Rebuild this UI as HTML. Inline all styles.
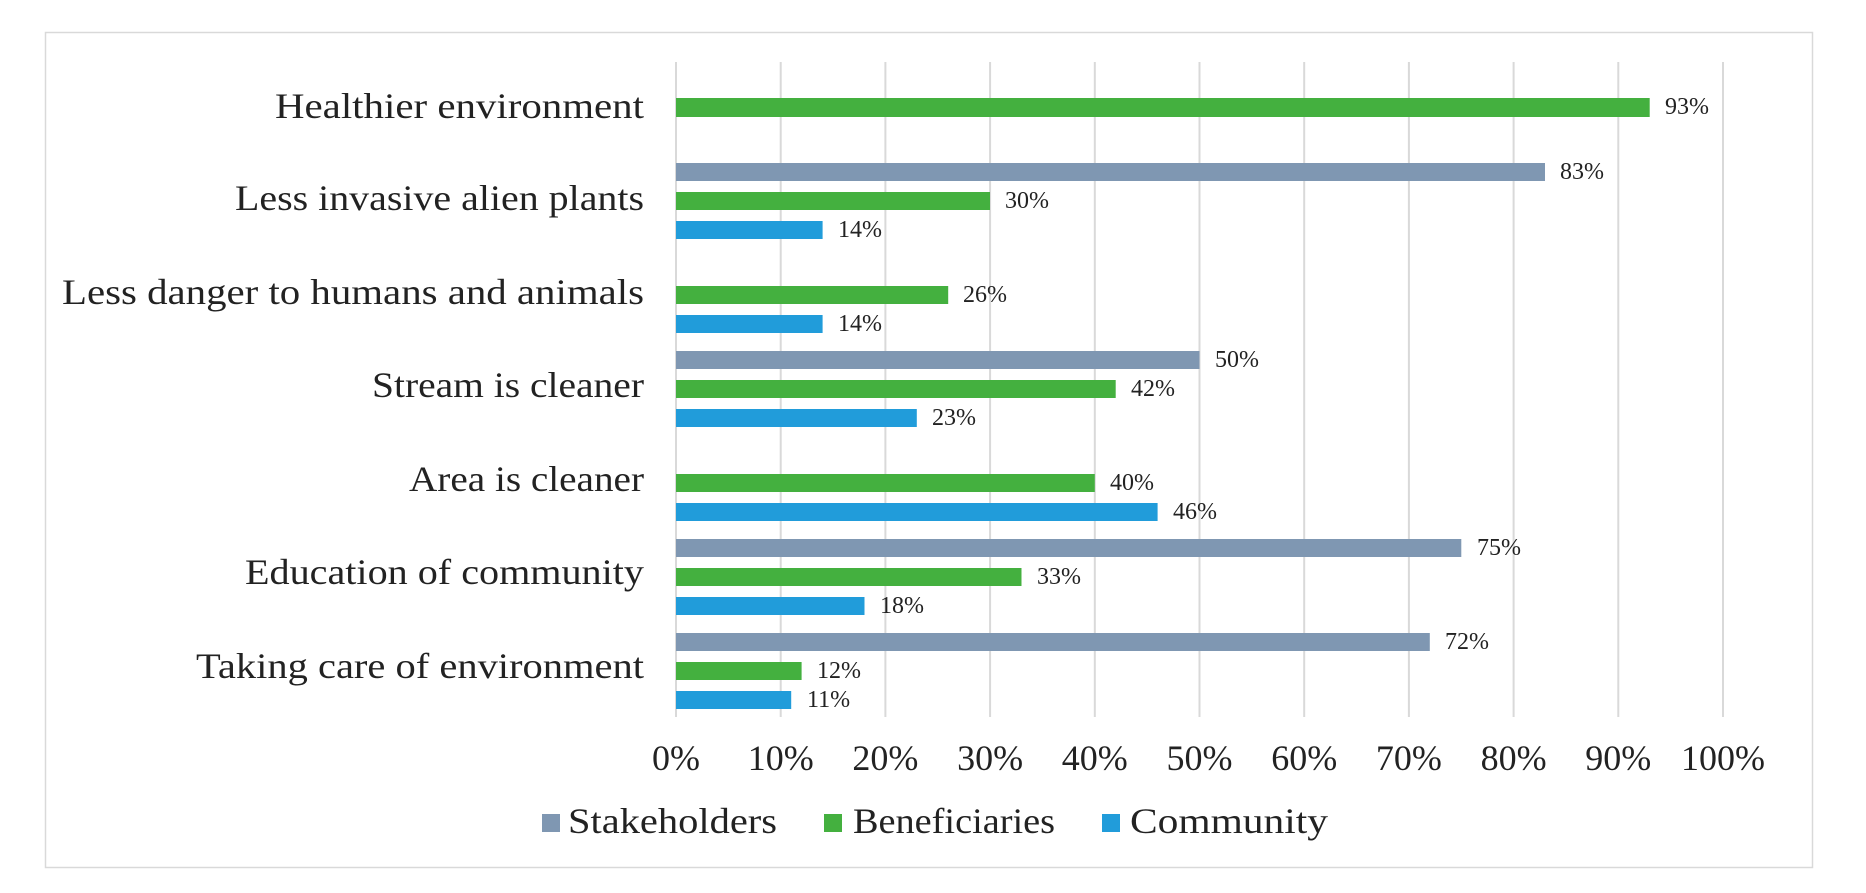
<!DOCTYPE html>
<html><head><meta charset="utf-8"><style>
html,body{margin:0;padding:0;background:#fff;}
svg{display:block;}
text{font-family:"Liberation Serif",serif;fill:#222;}
</style></head><body>
<svg width="1866" height="893" viewBox="0 0 1866 893" xmlns="http://www.w3.org/2000/svg">
<rect x="45.5" y="32.5" width="1767" height="835" fill="#fff" stroke="#d9d9d9" stroke-width="1.5"/>
<g stroke="#d9d9d9" stroke-width="2">
<line x1="676" y1="62" x2="676" y2="717"/>
<line x1="780.7" y1="62" x2="780.7" y2="717"/>
<line x1="885.4" y1="62" x2="885.4" y2="717"/>
<line x1="990.1" y1="62" x2="990.1" y2="717"/>
<line x1="1094.8" y1="62" x2="1094.8" y2="717"/>
<line x1="1199.5" y1="62" x2="1199.5" y2="717"/>
<line x1="1304.2" y1="62" x2="1304.2" y2="717"/>
<line x1="1408.9" y1="62" x2="1408.9" y2="717"/>
<line x1="1513.6" y1="62" x2="1513.6" y2="717"/>
<line x1="1618.3" y1="62" x2="1618.3" y2="717"/>
<line x1="1723" y1="62" x2="1723" y2="717"/>
</g>
<g font-size="36" text-anchor="end">
<text x="644" y="118" textLength="369" lengthAdjust="spacingAndGlyphs">Healthier environment</text>
<text x="644" y="210" textLength="409" lengthAdjust="spacingAndGlyphs">Less invasive alien plants</text>
<text x="644" y="304" textLength="582" lengthAdjust="spacingAndGlyphs">Less danger to humans and animals</text>
<text x="644" y="397" textLength="272" lengthAdjust="spacingAndGlyphs">Stream is cleaner</text>
<text x="644" y="491" textLength="235" lengthAdjust="spacingAndGlyphs">Area is cleaner</text>
<text x="644" y="584" textLength="399" lengthAdjust="spacingAndGlyphs">Education of community</text>
<text x="644" y="678" textLength="448" lengthAdjust="spacingAndGlyphs">Taking care of environment</text>
</g>
<g id="bars" font-size="24"></g>
<g font-size="36" text-anchor="middle">
<text x="676" y="770">0%</text><text x="780.7" y="770">10%</text><text x="885.4" y="770">20%</text><text x="990.1" y="770">30%</text><text x="1094.8" y="770">40%</text><text x="1199.5" y="770">50%</text><text x="1304.2" y="770">60%</text><text x="1408.9" y="770">70%</text><text x="1513.6" y="770">80%</text><text x="1618.3" y="770">90%</text><text x="1723" y="770">100%</text>
</g>
<rect x="542" y="814" width="18" height="18" fill="#7f97b2"/>
<text x="568" y="833" font-size="36" textLength="209" lengthAdjust="spacingAndGlyphs">Stakeholders</text>
<rect x="824" y="814" width="18" height="18" fill="#44b03f"/>
<text x="853" y="833" font-size="36" textLength="202" lengthAdjust="spacingAndGlyphs">Beneficiaries</text>
<rect x="1102" y="814" width="18" height="18" fill="#219cda"/>
<text x="1130" y="833" font-size="36" textLength="198" lengthAdjust="spacingAndGlyphs">Community</text>
<!-- bars -->
<g font-size="24">
<rect x="676" y="98" width="973.7" height="19" fill="#44b03f"/><text x="1665" y="114">93%</text>

<rect x="676" y="163" width="869" height="18" fill="#7f97b2"/><text x="1560" y="179">83%</text>
<rect x="676" y="192" width="314" height="18" fill="#44b03f"/><text x="1005" y="208">30%</text>
<rect x="676" y="221" width="146.6" height="18" fill="#219cda"/><text x="838" y="237">14%</text>

<rect x="676" y="286" width="272.2" height="18" fill="#44b03f"/><text x="963" y="302">26%</text>
<rect x="676" y="315" width="146.6" height="18" fill="#219cda"/><text x="838" y="331">14%</text>

<rect x="676" y="351" width="523.5" height="18" fill="#7f97b2"/><text x="1215" y="367">50%</text>
<rect x="676" y="380" width="439.7" height="18" fill="#44b03f"/><text x="1131" y="396">42%</text>
<rect x="676" y="409" width="240.8" height="18" fill="#219cda"/><text x="932" y="425">23%</text>

<rect x="676" y="474" width="418.8" height="18" fill="#44b03f"/><text x="1110" y="490">40%</text>
<rect x="676" y="503" width="481.6" height="18" fill="#219cda"/><text x="1173" y="519">46%</text>

<rect x="676" y="539" width="785.3" height="18" fill="#7f97b2"/><text x="1477" y="555">75%</text>
<rect x="676" y="568" width="345.5" height="18" fill="#44b03f"/><text x="1037" y="584">33%</text>
<rect x="676" y="597" width="188.5" height="18" fill="#219cda"/><text x="880" y="613">18%</text>

<rect x="676" y="633" width="753.8" height="18" fill="#7f97b2"/><text x="1445" y="649">72%</text>
<rect x="676" y="662" width="125.6" height="18" fill="#44b03f"/><text x="817" y="678">12%</text>
<rect x="676" y="691" width="115.2" height="18" fill="#219cda"/><text x="807" y="707">11%</text>
</g>
</svg>
</body></html>
